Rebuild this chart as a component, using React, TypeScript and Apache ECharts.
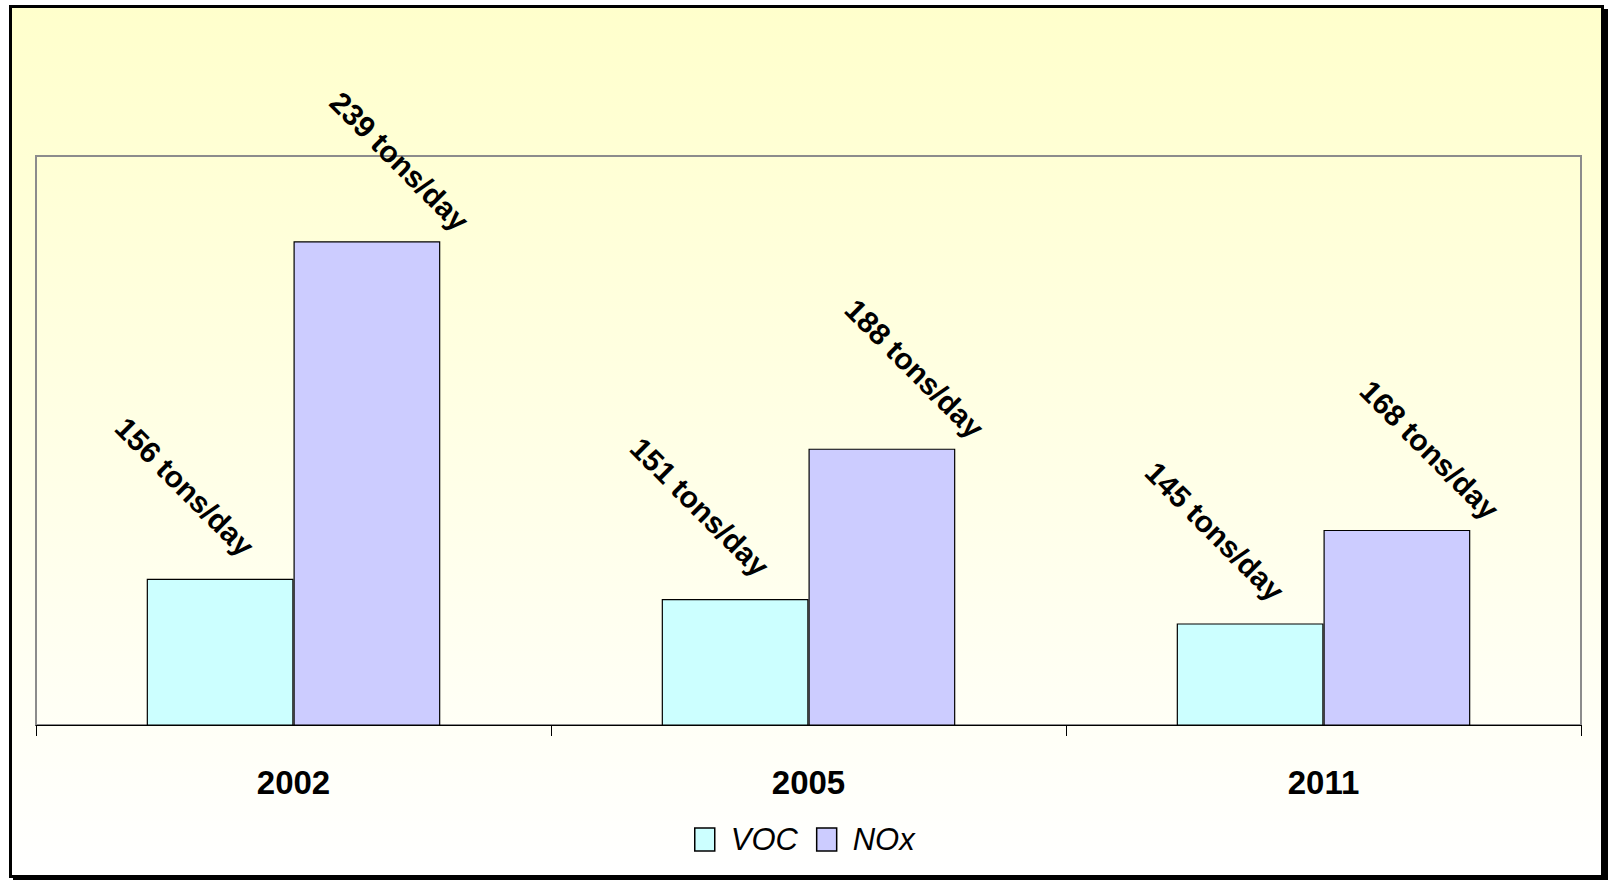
import React, { useEffect, useRef } from "react";
import * as echarts from "echarts";

const categories = ["2002", "2005", "2011"];
const vocValues = [156, 151, 145];
const noxValues = [239, 188, 168];
const seriesNames = ["VOC", "NOx"];
const unitSuffix = " tons/day";

export default function App() {
  const ref = useRef<HTMLDivElement>(null);
  useEffect(() => {
    if (!ref.current) return;
    const chart = echarts.init(ref.current, undefined, { renderer: "svg" });
    const labelFont = {
      fontFamily: "'Liberation Sans', Arial, sans-serif",
      fontWeight: "bold" as const,
      fontSize: 30,
      color: "#000",
    };
    chart.setOption({
      animation: false,
      backgroundColor: "#ffffff",
      graphic: [
        {
          type: "rect",
          z: -20,
          silent: true,
          shape: { x: 13, y: 9, width: 1600, height: 880 },
          style: { fill: "#000" },
        },
        {
          type: "rect",
          z: -10,
          silent: true,
          shape: { x: 10.5, y: 6.5, width: 1592, height: 870 },
          style: {
            fill: new echarts.graphic.LinearGradient(0, 0, 0, 1, [
              { offset: 0, color: "#FFFFCC" },
              { offset: 1, color: "#FFFFFF" },
            ]),
            stroke: "#000",
            lineWidth: 3,
          },
        },
      ],
      grid: {
        left: 36,
        top: 156,
        width: 1545,
        height: 569,
        show: true,
        borderColor: "#8c8c8c",
        borderWidth: 2,
        backgroundColor: "transparent",
        containLabel: false,
      },
      legend: {
        data: seriesNames,
        left: 694,
        top: 824,
        padding: 0,
        itemWidth: 20,
        itemHeight: 23,
        itemGap: 18,
        icon: "rect",
        itemStyle: { borderColor: "#000", borderWidth: 1.5 },
        textStyle: {
          fontFamily: "'Liberation Sans', Arial, sans-serif",
          fontStyle: "italic",
          fontSize: 31,
          color: "#000",
          padding: [0, 0, 0, 11],
        },
      },
      xAxis: {
        type: "category",
        data: categories,
        axisLine: { show: true, lineStyle: { color: "#000", width: 1 } },
        axisTick: { show: true, length: 11, lineStyle: { color: "#000", width: 1 } },
        axisLabel: {
          margin: 41,
          fontFamily: "'Liberation Sans', Arial, sans-serif",
          fontWeight: "bold",
          fontSize: 33,
          color: "#000",
        },
        splitLine: { show: false },
      },
      yAxis: {
        type: "value",
        min: 120,
        max: 260,
        show: false,
        splitLine: { show: false },
      },
      series: [
        {
          name: seriesNames[0],
          type: "bar",
          data: vocValues,
          barGap: "0%",
          barCategoryGap: "43%",
          itemStyle: { color: "#CCFFFF", borderColor: "#000", borderWidth: 1.2 },
          label: {
            show: true,
            position: [38, -92],
            rotate: -45,
            align: "center",
            verticalAlign: "middle",
            formatter: (p: any) => p.value + unitSuffix,
            ...labelFont,
          },
        },
        {
          name: seriesNames[1],
          type: "bar",
          data: noxValues,
          barGap: "0%",
          barCategoryGap: "43%",
          itemStyle: { color: "#CCCCFF", borderColor: "#000", borderWidth: 1.2 },
          label: {
            show: true,
            position: [106, -80],
            rotate: -45,
            align: "center",
            verticalAlign: "middle",
            formatter: (p: any) => p.value + unitSuffix,
            ...labelFont,
          },
        },
      ],
    });
    return () => chart.dispose();
  }, []);
  return (
    <div
      ref={ref}
      style={{ position: "fixed", left: 0, top: 0, width: 1608, height: 880, background: "#fff" }}
    />
  );
}
